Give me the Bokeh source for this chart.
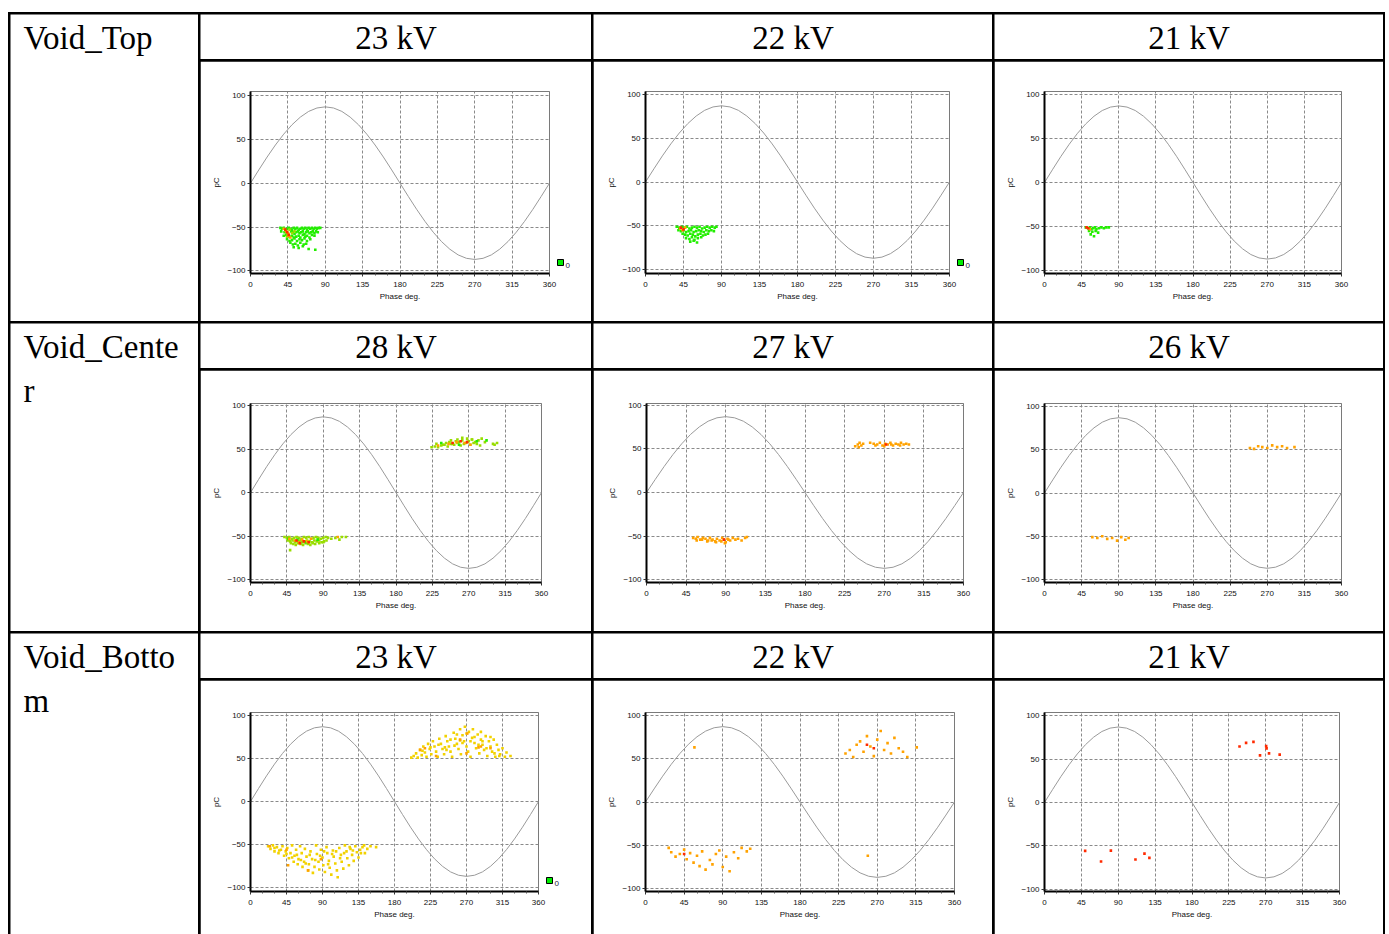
from bokeh.plotting import figure
from bokeh.models import Range1d, FixedTicker, Spacer, ColorBar, LinearColorMapper, Row, Column
from bokeh.core.properties import value
from bokeh.embed import file_html
from bokeh.resources import INLINE

# ---------------- data ----------------
row_labels = [["Void_Top"], ["Void_Cente", "r"], ["Void_Botto", "m"]]
col_headers = [["23 kV", "22 kV", "21 kV"], ["28 kV", "27 kV", "26 kV"], ["23 kV", "22 kV", "21 kV"]]

x_ticks = [0, 45, 90, 135, 180, 225, 270, 315, 360]
x_minor = [15, 30, 60, 75, 105, 120, 150, 165, 195, 210, 240, 255, 285, 300, 330, 345]
y_ticks = [-100, -50, 0, 50, 100]
legend_ticks = [0]

# reference voltage (pC scale) read every 10 degrees
sine_phase = [0, 10, 20, 30, 40, 50, 60, 70, 80, 90, 100, 110, 120, 130, 140, 150, 160, 170, 180,
              190, 200, 210, 220, 230, 240, 250, 260, 270, 280, 290, 300, 310, 320, 330, 340, 350, 360]
sine_pc = [0, 15.1, 29.8, 43.5, 55.9, 66.6, 75.3, 81.8, 85.7, 87.0, 85.7, 81.8, 75.3, 66.6, 55.9, 43.5, 29.8, 15.1, 0,
           -15.1, -29.8, -43.5, -55.9, -66.6, -75.3, -81.8, -85.7, -87.0, -85.7, -81.8, -75.3, -66.6, -55.9, -43.5, -29.8, -15.1, 0]

# Void_Top 23 kV  (phase deg, pC)
top23_green = [(36,-51),(38,-52),(40,-51),(42,-53),(44,-52),(46,-51),(48,-52),(50,-53),(52,-51),(54,-52),(56,-51),(58,-53),
               (60,-52),(62,-51),(64,-52),(66,-51),(68,-53),(70,-51),(72,-52),(74,-51),(76,-52),(78,-51),(80,-52),(82,-51),(84,-51),
               (37,-55),(41,-56),(45,-57),(49,-55),(51,-56),(53,-58),(55,-56),(57,-55),(59,-57),(61,-56),(63,-55),(65,-58),
               (67,-56),(69,-55),(71,-57),(73,-56),(75,-55),(77,-57),(79,-55),(81,-56),
               (40,-60),(43,-59),(47,-61),(50,-60),(52,-62),(55,-61),(58,-60),(60,-62),(63,-59),(66,-61),(68,-60),(71,-62),(74,-59),(77,-60),
               (44,-64),(47,-66),(50,-65),(53,-63),(56,-66),(59,-64),(62,-65),(65,-63),(68,-66),(72,-64),
               (48,-68),(51,-70),(54,-69),(57,-71),(60,-68),(64,-70),(67,-69),
               (52,-73),(58,-74),(63,-72),(70,-75),(78,-76)]
top23_lime = [(42,-54),(45,-58),(47,-53),(50,-57),(53,-55),(44,-61)]
top23_orange = [(40,-52),(43,-55),(45,-57),(46,-60),(48,-62)]
top23_red = [(42,-53),(44,-56),(46,-59)]

# Void_Top 22 kV
top22_green = [(37,-51),(40,-52),(43,-51),(46,-52),(49,-51),(52,-53),(55,-52),(58,-51),(61,-52),(64,-51),(67,-53),(70,-52),
               (73,-51),(76,-52),(79,-51),(82,-52),(84,-51),
               (39,-55),(42,-56),(45,-55),(48,-57),(51,-56),(54,-55),(57,-57),(60,-56),(63,-55),(66,-56),(69,-57),(72,-55),(75,-56),(78,-55),(81,-56),
               (44,-59),(47,-60),(50,-61),(53,-59),(56,-60),(59,-62),(62,-60),(65,-59),(68,-61),(71,-60),(74,-59),
               (48,-64),(52,-65),(55,-63),(58,-66),(62,-64),(66,-63),
               (53,-68),(57,-67),(61,-69)]
top22_orange = [(41,-53),(44,-55),(47,-52)]
top22_red = [(42,-52),(45,-54)]

# Void_Top 21 kV
top21_green = [(50,-51),(53,-52),(55,-51),(57,-53),(59,-52),(61,-51),(63,-53),(66,-52),(69,-51),(72,-52),(75,-51),(78,-51),
               (54,-55),(58,-56),(62,-55),(65,-57),(56,-59),(60,-61)]
top21_orange = [(55,-53)]
top21_red = [(51,-51),(53,-52)]

# Void_Center 28 kV
cen28_lime = [(42,-51),(45,-52),(48,-51),(51,-53),(54,-52),(57,-51),(60,-52),(63,-53),(66,-51),(69,-52),(72,-51),(75,-53),
              (78,-52),(81,-51),(84,-52),(87,-53),(90,-52),(93,-51),(96,-52),
              (46,-55),(49,-56),(52,-55),(55,-57),(58,-56),(61,-55),(64,-57),(67,-56),(70,-55),(73,-56),(76,-57),(79,-55),
              (82,-56),(85,-55),(88,-57),(91,-56),(94,-55),
              (50,-58),(53,-59),(56,-60),(59,-58),(62,-59),(65,-60),(68,-58),(71,-59),(74,-60),(77,-58),(80,-59),(85,-58),(90,-57),
              (49,-66),(100,-53),(105,-52),(110,-54),(113,-51),(118,-51),
              (224,52),(228,53),(232,52),(236,54),(240,55),(244,53),(248,56),(252,55),(256,57),(260,54),(264,56),(268,58),
              (272,55),(276,57),(280,56),(284,54),
              (230,56),(238,55),(242,57),(246,58),(250,56),(254,59),(258,58),(262,60),(266,57),(270,59),(274,61),(278,58),(282,60),(286,62),
              (248,60),(256,61),(262,63),(268,62),(274,61),(290,58),(300,56),(302,55),(305,57)]
cen28_green = [(47,-53),(58,-54),(69,-57),(83,-54),(236,57),(258,55),(280,59),(292,60)]
cen28_orange = [(48,-53),(55,-55),(60,-57),(64,-54),(70,-56),(75,-53),(108,-51),(232,54),(245,56),(255,58),(265,57),(272,55)]
cen28_red = [(57,-55),(61,-58),(66,-56),(72,-57),(250,57),(260,59),(268,58)]

# Void_Center 27 kV
cen27_orange = [(53,-52),(56,-53),(58,-51),(61,-54),(64,-52),(67,-53),(70,-55),(72,-52),(75,-54),(78,-56),(80,-53),(83,-55),
                (86,-52),(88,-54),(90,-57),(92,-53),(95,-55),(98,-52),(101,-54),(104,-53),(108,-55),(112,-52),(114,-51),
                (57,-55),(63,-54),(69,-56),(74,-55),(79,-57),(85,-56),(89,-58),(93,-54),
                (237,53),(240,55),(242,57),(244,54),(246,56),(254,57),(258,56),(262,55),(265,57),(268,54),(271,56),(274,55),
                (277,57),(280,54),(283,56),(286,55),(289,57),(292,55),(295,56),(298,55),(241,52),(260,54),(270,53),(278,55),(288,54)]
cen27_red = [(272,55),(88,-54)]

# Void_Center 26 kV
cen26_orange = [(58,-51),(64,-52),(70,-50),(76,-53),(82,-52),(88,-55),(93,-51),(98,-54),(102,-52),
                (249,52),(254,51),(259,54),(264,53),(270,52),(276,55),(282,53),(288,54),(294,52),(303,53)]

# Void_Bottom 23 kV
bot23_yellow = [(22,-52),(25,-55),(28,-51),(30,-58),(33,-53),(35,-60),(38,-56),(40,-52),(42,-63),(44,-58),(46,-54),(48,-66),
                (50,-60),(52,-51),(54,-70),(55,-63),(57,-56),(59,-73),(60,-67),(62,-52),(64,-60),(65,-76),(67,-70),(68,-55),
                (70,-64),(72,-80),(73,-73),(75,-58),(77,-67),(78,-83),(80,-76),(82,-51),(83,-61),(85,-70),(86,-79),(88,-56),
                (90,-65),(91,-74),(93,-82),(95,-53),(96,-60),(98,-69),(99,-77),(101,-85),(103,-57),(104,-64),(106,-72),(108,-80),
                (109,-88),(111,-54),(113,-62),(114,-70),(116,-78),(118,-51),(120,-58),(121,-66),(123,-74),(125,-55),(127,-62),
                (129,-69),(131,-52),(133,-59),(135,-65),(137,-56),(140,-53),(143,-60),(146,-55),(150,-52),(157,-53),
                (30,-54),(36,-57),(45,-61),(52,-65),(58,-62),(63,-68),(69,-72),(74,-62),(81,-68),(87,-63),(92,-58),(97,-73),
                (102,-61),(107,-58),(112,-66),(117,-60),(124,-53),(128,-57),(138,-60),(142,-51),
                (201,51),(204,53),(207,56),(209,51),(212,60),(214,54),(216,64),(218,57),(220,52),(222,67),(224,61),(226,55),
                (228,70),(230,64),(232,58),(234,52),(236,73),(238,67),(240,61),(242,55),(244,76),(246,70),(248,64),(250,58),
                (252,52),(254,80),(256,73),(258,67),(260,61),(262,84),(263,55),(265,77),(267,70),(268,87),(270,64),(272,58),
                (273,81),(275,52),(277,74),(278,84),(280,68),(282,62),(284,78),(286,56),(288,72),(290,66),(292,60),(294,76),
                (296,53),(298,70),(300,64),(302,58),(304,72),(306,52),(308,66),(310,60),(312,55),(315,62),(318,52),(320,57),(325,53),
                (215,59),(225,63),(235,66),(245,60),(255,65),(265,68),(275,70),(285,66),(295,62),(305,56),(258,78),(270,79),
                (280,75),(290,70),(250,72),(243,63),(262,71),(288,81),(300,75),(311,53)]
bot23_orange = [(24,-52),(45,-56),(47,-74),(72,-80),(88,-67),(212,60),(218,62),(262,72),(270,56),(271,79),(285,63),(288,64),(300,62),(232,53)]

# Void_Bottom 22 kV
bot22_orange = [(27,-53),(30,-58),(35,-63),(40,-60),(45,-55),(48,-66),(52,-59),(56,-70),(60,-62),(63,-74),(66,-57),(70,-78),
                (75,-67),(78,-72),(82,-60),(86,-56),(90,-75),(94,-63),(98,-80),(103,-58),(108,-65),(112,-53),(118,-57),(122,-54),
                (57,63),(259,-62),
                (233,56),(238,60),(242,52),(246,66),(250,70),(254,58),(258,76),(262,64),(266,53),(270,72),(274,82),(278,60),
                (282,68),(286,56),(290,74),(295,62),(300,58),(305,52),(316,63)]
bot22_red = [(45,-60),(258,66),(266,62)]

# Void_Bottom 21 kV
bot21_red = [(238,64.5),(246,68.7),(255,69.8),(263,54.3),(270.5,64.9),(271,62.3),(274,56.6),(287,55.1),
             (49.6,-55.8),(69,-68),(81,-55.5),(111,-65.7),(122,-59),(128,-63.8)]

GREEN = "#22ee00"
LIME = "#99dd00"
ORANGE = "#ffa200"
RED = "#ff2a00"
YELLOW = "#f2d200"

# ---------------- layout geometry ----------------
col_w = [188, 391, 399, 389]
head_h = 45
chart_h = [260, 261, 254]
GAP = 2

panels = [
    # row, col, borders (l, r, t, b), y range, series, colour-legend stub
    (0, 0, (50, 42, 28, 48), (-103.0, 104.5), [(top23_green, GREEN), (top23_lime, LIME), (top23_orange, ORANGE), (top23_red, RED)], True),
    (0, 1, (52, 43, 27, 45), (-104.4, 103.3), [(top22_green, GREEN), (top22_orange, ORANGE), (top22_red, RED)], True),
    (0, 2, (50, 42, 30, 48), (-103.4, 103.4), [(top21_green, GREEN), (top21_orange, ORANGE), (top21_red, RED)], False),
    (1, 0, (50, 50, 33, 49), (-103.2, 102.3), [(cen28_lime, LIME), (cen28_green, GREEN), (cen28_orange, ORANGE), (cen28_red, RED)], False),
    (1, 1, (53, 29, 25, 42), (-103.2, 102.1), [(cen27_orange, ORANGE), (cen27_red, RED)], False),
    (1, 2, (50, 42, 29, 47), (-103.4, 103.4), [(cen26_orange, ORANGE)], False),
    (2, 0, (50, 53, 32, 43), (-104.6, 103.5), [(bot23_yellow, YELLOW), (bot23_orange, ORANGE)], True),
    (2, 1, (52, 38, 24, 40), (-103.3, 103.3), [(bot22_orange, ORANGE), (bot22_red, RED)], False),
    (2, 2, (50, 44, 29, 43), (-102.6, 103.7), [(bot21_red, RED)], False),
]

SERIF = "Liberation Serif"
SANS = "Liberation Sans"


def blank(w, h):
    p = figure(width=w, height=h, x_range=Range1d(0, w), y_range=Range1d(h, 0),
               output_backend="svg", toolbar_location=None, min_border=0,
               x_axis_type=None, y_axis_type=None)
    p.outline_line_color = None
    p.background_fill_color = "white"
    p.border_fill_color = "white"
    return p


def label_cell(lines, w, h):
    p = blank(w, h)
    line_y = [23, 67]
    for i, t in enumerate(lines):
        p.text(x=[13], y=[line_y[i]], text=[t], text_font=value(SERIF), text_font_size="33px",
               text_baseline="middle", text_align="left", text_color="black")
    return p


def header_cell(t, w, h):
    p = blank(w, h)
    p.text(x=[w / 2], y=[23], text=[t], text_font=value(SERIF), text_font_size="33px",
           text_baseline="middle", text_align="center", text_color="black")
    return p


def chart_cell(w, h, borders, yr, series, legend):
    l, r, t, b = borders
    p = figure(width=w, height=h, x_range=Range1d(0, 360), y_range=Range1d(*yr),
               output_backend="svg", toolbar_location=None,
               min_border_left=l, min_border_right=r, min_border_top=t, min_border_bottom=b)
    p.background_fill_color = "white"
    p.border_fill_color = "white"
    p.outline_line_color = "#7a7a7a"
    p.outline_line_width = 1
    xa = p.xaxis[0]
    ya = p.yaxis[0]
    xa.ticker = FixedTicker(ticks=x_ticks, minor_ticks=x_minor)
    ya.ticker = FixedTicker(ticks=y_ticks)
    for ax in (xa, ya):
        ax.axis_line_color = "black"
        ax.axis_line_width = 2
        ax.major_tick_line_color = "#333333"
        ax.major_tick_out = 3
        ax.major_tick_in = 0
        ax.major_label_text_font = SANS
        ax.major_label_text_font_size = "8px"
        ax.major_label_text_color = "#111111"
        ax.axis_label_text_font = SANS
        ax.axis_label_text_font_size = "8px"
        ax.axis_label_text_font_style = "normal"
        ax.axis_label_text_color = "#111111"
    xa.minor_tick_out = 2
    xa.minor_tick_in = 0
    xa.minor_tick_line_color = "#555555"
    ya.minor_tick_line_color = None
    xa.major_label_standoff = 5
    ya.major_label_standoff = 2
    xa.axis_label_standoff = 2
    ya.axis_label_standoff = 3
    xa.axis_label = "Phase deg."
    ya.axis_label = "pC"
    p.grid.grid_line_color = "#8a8a8a"
    p.grid.grid_line_dash = "3 2"
    p.grid.grid_line_width = 1
    p.line(sine_phase, sine_pc, line_color="#9a9a9a", line_width=1)
    for pts, color in series:
        xs = [q[0] for q in pts]
        ys = [q[1] for q in pts]
        p.scatter(xs, ys, marker="square", size=2.6, fill_color=color, line_color=None)
    if legend:
        cb = ColorBar(color_mapper=LinearColorMapper(palette=["#00ee00"], low=0, high=1),
                      ticker=FixedTicker(ticks=legend_ticks), width=6, height=6,
                      location="bottom_left", margin=0, padding=8,
                      major_label_text_font=SANS, major_label_text_font_size="8px",
                      major_label_text_color="#1a1a3a", label_standoff=2,
                      major_tick_line_color=None, bar_line_color="black",
                      border_line_color=None, background_fill_color=None)
        p.add_layout(cb, "right")
    return p


layout_style = {"background-color": "black", "padding": "2px 2px 0px 2px"}
bands = []
for r in range(3):
    heads = Row(children=[header_cell(col_headers[r][c], col_w[c + 1], head_h) for c in range(3)], spacing=GAP)
    charts = Row(children=[chart_cell(col_w[c + 1], chart_h[r], *panels[3 * r + c][2:]) for c in range(3)], spacing=GAP)
    right = Column(children=[heads, charts], spacing=GAP)
    lab = label_cell(row_labels[r], col_w[0], head_h + GAP + chart_h[r])
    bands.append(Row(children=[lab, right], spacing=GAP))

table = Column(children=bands, spacing=GAP, styles=layout_style)

layout = Column(children=[Spacer(width=10, height=12), Row(children=[Spacer(width=8, height=10), table])])

open("out.html", "w").write(file_html(layout, INLINE))
